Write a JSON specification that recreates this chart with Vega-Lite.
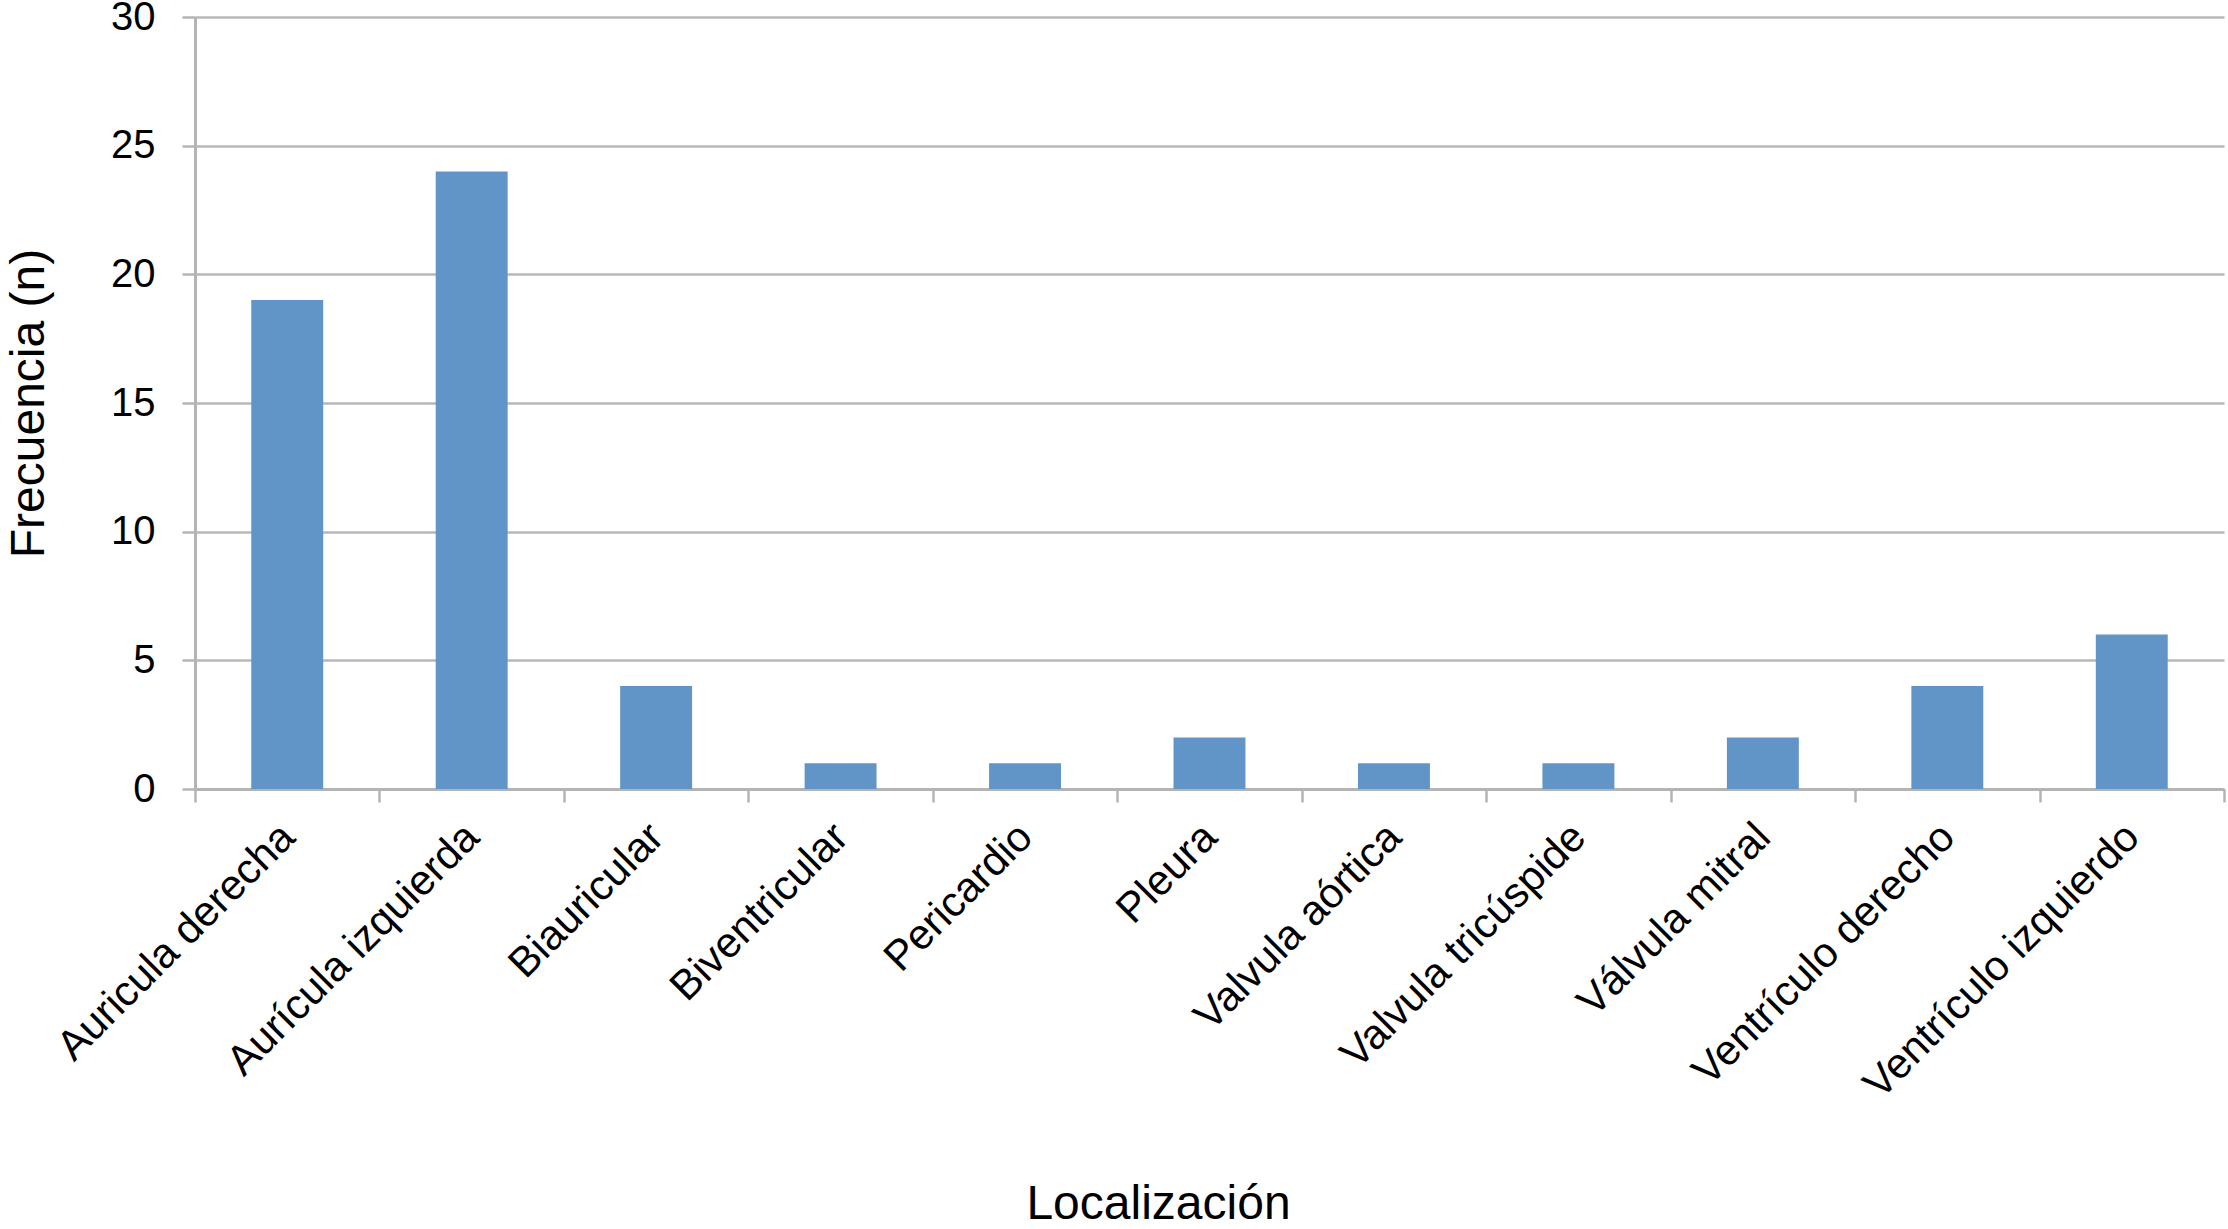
{
  "$schema": "https://vega.github.io/schema/vega-lite/v6.json",
  "width": 2029,
  "height": 772,
  "autosize": "none",
  "padding": {"left": 195, "top": 17, "right": 4, "bottom": 440},
  "background": "white",
  "config": {
    "font": "Liberation Sans",
    "view": {"stroke": null}
  },
  "data": {
    "values": [
      {"loc": "Auricula derecha", "n": 19},
      {"loc": "Aurícula izquierda", "n": 24},
      {"loc": "Biauricular", "n": 4},
      {"loc": "Biventricular", "n": 1},
      {"loc": "Pericardio", "n": 1},
      {"loc": "Pleura", "n": 2},
      {"loc": "Valvula aórtica", "n": 1},
      {"loc": "Valvula tricúspide", "n": 1},
      {"loc": "Válvula mitral", "n": 2},
      {"loc": "Ventrículo derecho", "n": 4},
      {"loc": "Ventrículo izquierdo", "n": 6}
    ]
  },
  "mark": {"type": "bar", "color": "#6195c8", "width": {"band": 0.39}},
  "encoding": {
    "x": {
      "field": "loc",
      "type": "nominal",
      "sort": null,
      "scale": {"paddingInner": 0, "paddingOuter": 0},
      "axis": {
        "title": "Localización",
        "titleFontSize": 48,
        "titleFontWeight": "normal",
        "titleColor": "black",
        "titleX": 963,
        "titleY": 429,
        "titleBaseline": "alphabetic",
        "labelAngle": -45,
        "labelBaseline": "middle",
        "labelFontSize": 42,
        "labelColor": "black",
        "labelLimit": 0,
        "labelOverlap": false,
        "labelPadding": 28,
        "tickBand": "extent",
        "tickSize": 13,
        "tickWidth": 2.5,
        "tickColor": "#b4b4b4",
        "domainColor": "#b4b4b4",
        "domainWidth": 3,
        "grid": false
      }
    },
    "y": {
      "field": "n",
      "type": "quantitative",
      "scale": {"domain": [0, 30], "nice": false},
      "axis": {
        "title": "Frecuencia (n)",
        "titleFontSize": 48,
        "titleFontWeight": "normal",
        "titleColor": "black",
        "titlePadding": 57,
        "values": [0, 5, 10, 15, 20, 25, 30],
        "labelFontSize": 40,
        "labelColor": "black",
        "labelPadding": 27,
        "tickSize": 13,
        "tickWidth": 2.5,
        "tickColor": "#b4b4b4",
        "domainColor": "#b4b4b4",
        "domainWidth": 3,
        "grid": true,
        "gridColor": "#b8b8b8",
        "gridWidth": 2.5
      }
    }
  }
}
